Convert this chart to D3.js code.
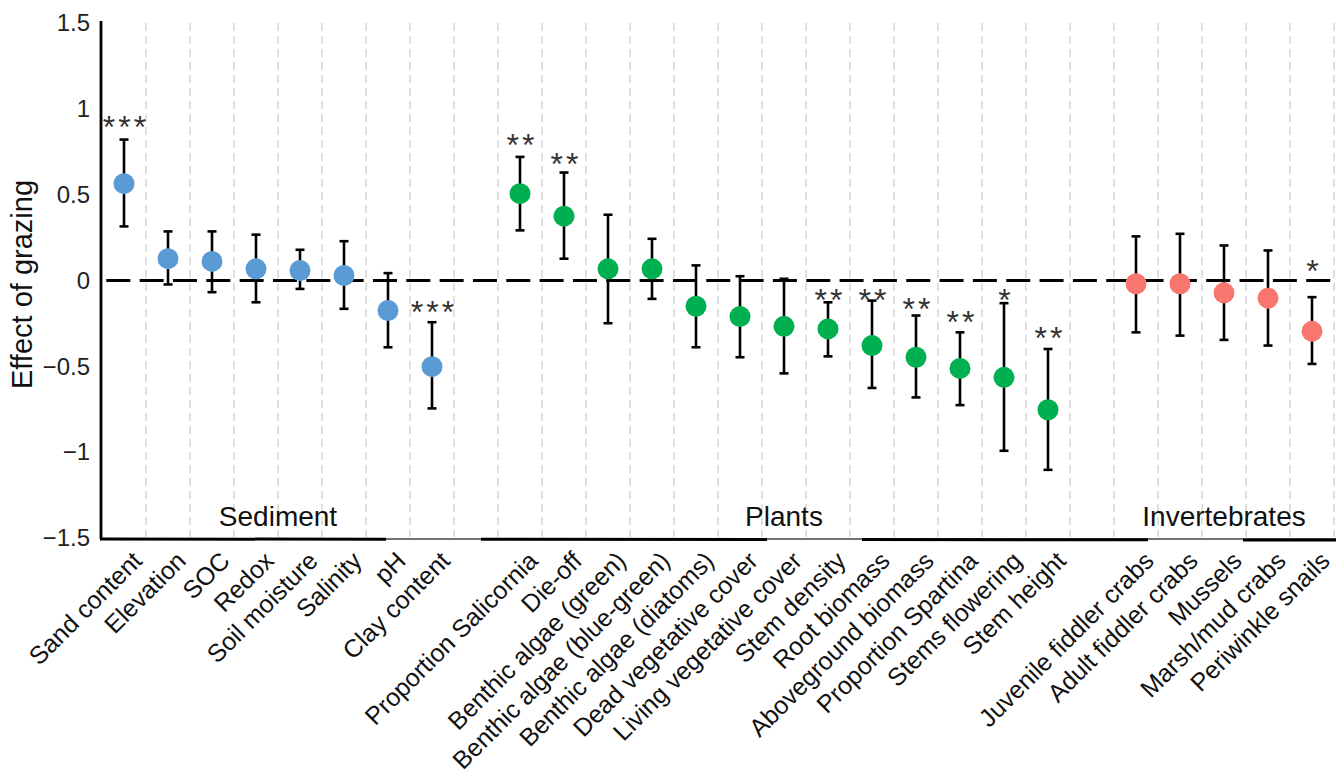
<!DOCTYPE html>
<html>
<head>
<meta charset="utf-8">
<script src="https://cdn.jsdelivr.net/npm/d3@7/dist/d3.min.js"></script>
<style>
  html, body { margin: 0; padding: 0; background: #fff; }
  svg { display: block; }
</style>
</head>
<body>
<svg id="chart" width="1341" height="779"></svg>
<script>
// ---------------- data ----------------
const groups = ["Sediment", "Plants", "Invertebrates"];

const sedimentNames = ["Sand content", "Elevation", "SOC", "Redox", "Soil moisture", "Salinity", "pH", "Clay content"];
const sedimentMean  = [0.564, 0.127, 0.111, 0.068, 0.058, 0.029, -0.175, -0.502];
const sedimentLow   = [0.315, -0.023, -0.068, -0.127, -0.049, -0.165, -0.389, -0.745];
const sedimentHigh  = [0.821, 0.286, 0.286, 0.267, 0.179, 0.229, 0.043, -0.243];
const sedimentSig   = ["***", "", "", "", "", "", "", "***"];

const plantNames = ["Proportion Salicornia", "Die-off", "Benthic algae (green)", "Benthic algae (blue-green)",
  "Benthic algae (diatoms)", "Dead vegetative cover", "Living vegetative cover", "Stem density",
  "Root biomass", "Aboveground biomass", "Proportion Spartina", "Stems flowering", "Stem height"];
const plantMean = [0.506, 0.375, 0.068, 0.068, -0.150, -0.210, -0.267, -0.282, -0.379, -0.447, -0.512, -0.564, -0.753];
const plantLow  = [0.292, 0.127, -0.249, -0.107, -0.389, -0.447, -0.541, -0.442, -0.626, -0.681, -0.726, -0.992, -1.103];
const plantHigh = [0.720, 0.629, 0.383, 0.243, 0.088, 0.025, 0.010, -0.127, -0.117, -0.204, -0.302, -0.132, -0.399];
const plantSig  = ["**", "**", "", "", "", "", "", "**", "**", "**", "**", "*", "**"];

const invertNames = ["Juvenile fiddler crabs", "Adult fiddler crabs", "Mussels", "Marsh/mud crabs", "Periwinkle snails"];
const invertMean  = [-0.019, -0.019, -0.072, -0.103, -0.296];
const invertLow   = [-0.302, -0.321, -0.346, -0.379, -0.486];
const invertHigh  = [0.257, 0.272, 0.204, 0.175, -0.097];
const invertSig   = ["", "", "", "", "*"];

// where the significance marks sit (effect units)
const sedimentSigAt = [0.928, null, null, null, null, null, null, -0.146];
const plantSigAt    = [0.823, 0.712, null, null, null, null, null, -0.076, -0.076, -0.132, -0.204, -0.076, -0.298];
const invertSigAt   = [null, null, null, null, 0.093];

const yTicks = [-1.5, -1, -0.5, 0, 0.5, 1, 1.5];
const groupColors = ["#5B9BD5", "#00B050", "#F8766D"];

// ---------------- build rows (empty slot between groups) ----------------
const rows = [];
let slot = 0;
const groupSlots = [];
[[sedimentNames, sedimentMean, sedimentLow, sedimentHigh, sedimentSig, sedimentSigAt],
 [plantNames, plantMean, plantLow, plantHigh, plantSig, plantSigAt],
 [invertNames, invertMean, invertLow, invertHigh, invertSig, invertSigAt]].forEach((g, gi) => {
  const start = slot;
  g[0].forEach((name, i) => {
    rows.push({ name, mean: g[1][i], low: g[2][i], high: g[3][i], sig: g[4][i], sigAt: g[5][i], group: gi, slot });
    slot++;
  });
  groupSlots.push([start, slot - 1]);
  slot++; // gap
});
const nSlots = slot - 1; // 28

// ---------------- layout ----------------
const svg = d3.select("#chart");
const pLeft = 102, pRight = 1334, pTop = 23, pBottom = 538;
const x = d3.scaleBand().domain(d3.range(nSlots)).range([pLeft, pRight]).padding(0);
const y = d3.scaleLinear().domain([-1.5, 1.5]).range([pBottom, pTop]);
const cx = i => x(i) + x.bandwidth() / 2;
const font = "'Liberation Sans', Arial, sans-serif";

// vertical dashed gridlines at slot boundaries
svg.append("g").selectAll("line").data(d3.range(nSlots)).join("line")
  .attr("x1", i => x(i) + x.bandwidth()).attr("x2", i => x(i) + x.bandwidth())
  .attr("y1", pTop).attr("y2", pBottom - 1)
  .attr("stroke", "#d6d6d6").attr("stroke-width", 1.5).attr("stroke-dasharray", "8,5");

// zero reference line
svg.append("line")
  .attr("x1", pLeft).attr("x2", pRight).attr("y1", y(0)).attr("y2", y(0))
  .attr("stroke", "#000").attr("stroke-width", 3)
  .attr("stroke-dasharray", "24,9.33").attr("stroke-dashoffset", 29);

// y axis
const yAxis = d3.axisLeft(y).tickValues(yTicks).tickSize(0).tickPadding(11)
  .tickFormat(d => d === 0 ? "0" : (d < 0 ? "\u2212" + Math.abs(d) : String(d)));
const yg = svg.append("g").attr("transform", `translate(${pLeft - 1},0)`).call(yAxis);
yg.select(".domain").remove();
yg.selectAll("text").attr("font-family", font).attr("font-size", 24).attr("fill", "#222");
svg.append("line").attr("x1", pLeft - 1).attr("x2", pLeft - 1).attr("y1", pTop - 2).attr("y2", pBottom + 1)
  .attr("stroke", "#000").attr("stroke-width", 2.8);

// bottom axis line: thin continuous + heavy segments
svg.append("line").attr("x1", pLeft - 2).attr("x2", pRight + 2).attr("y1", pBottom + 1).attr("y2", pBottom + 1)
  .attr("stroke", "#444").attr("stroke-width", 1.3);
svg.append("line").attr("x1", pLeft - 2).attr("x2", pRight + 2).attr("y1", pBottom + 1).attr("y2", pBottom + 2)
  .attr("stroke", "#000").attr("stroke-width", 3).attr("stroke-dasharray", "286,95");

// y title
svg.append("text")
  .attr("transform", `translate(32,${(pTop + pBottom) / 2 + 4}) rotate(-90)`)
  .attr("text-anchor", "middle").attr("font-family", font).attr("font-size", 29).attr("fill", "#111")
  .text("Effect of grazing");

// group labels
svg.append("g").selectAll("text").data(groups).join("text")
  .attr("x", (d, i) => (cx(groupSlots[i][0]) + cx(groupSlots[i][1])) / 2)
  .attr("y", pBottom - 12)
  .attr("text-anchor", "middle").attr("font-family", font).attr("font-size", 28).attr("fill", "#111")
  .text(d => d);

// error bars
const eb = svg.append("g").selectAll("g").data(rows).join("g");
eb.append("line").attr("x1", d => cx(d.slot)).attr("x2", d => cx(d.slot))
  .attr("y1", d => y(d.high)).attr("y2", d => y(d.low))
  .attr("stroke", "#000").attr("stroke-width", 2.6);
eb.append("line").attr("x1", d => cx(d.slot) - 4.5).attr("x2", d => cx(d.slot) + 4.5)
  .attr("y1", d => y(d.high)).attr("y2", d => y(d.high))
  .attr("stroke", "#000").attr("stroke-width", 2.6);
eb.append("line").attr("x1", d => cx(d.slot) - 4.5).attr("x2", d => cx(d.slot) + 4.5)
  .attr("y1", d => y(d.low)).attr("y2", d => y(d.low))
  .attr("stroke", "#000").attr("stroke-width", 2.6);

// points
svg.append("g").selectAll("circle").data(rows).join("circle")
  .attr("cx", d => cx(d.slot)).attr("cy", d => y(d.mean)).attr("r", 10.5)
  .attr("fill", d => groupColors[d.group]);

// significance marks
svg.append("g").selectAll("text").data(rows.filter(d => d.sig)).join("text")
  .attr("x", d => cx(d.slot) + 2).attr("y", d => y(d.sigAt) + 17)
  .attr("text-anchor", "middle").attr("font-family", font).attr("font-size", 32)
  .attr("letter-spacing", 3).attr("fill", "#333")
  .text(d => d.sig);

// category labels, rotated
svg.append("g").selectAll("text").data(rows).join("text")
  .attr("transform", d => `translate(${cx(d.slot) + 7},${pBottom + 12}) rotate(-45)`)
  .attr("text-anchor", "end").attr("font-family", font).attr("font-size", 25).attr("fill", "#111")
  .attr("dy", "0.7em")
  .text(d => d.name);
</script>
</body>
</html>
